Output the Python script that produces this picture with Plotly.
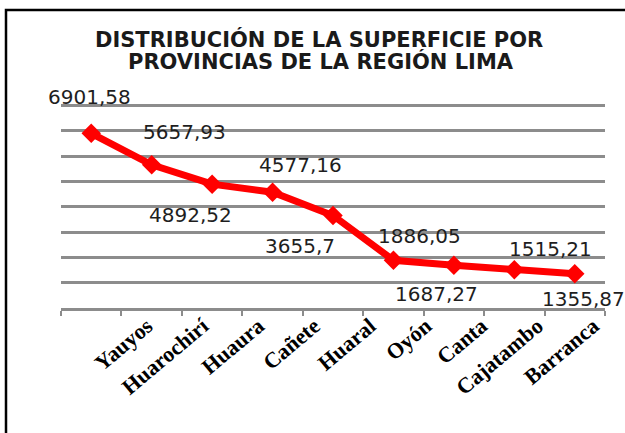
import plotly.graph_objects as go

# ---- data ----
provincias = ["Yauyos", "Huarochirí", "Huaura", "Cañete", "Huaral",
              "Oyón", "Canta", "Cajatambo", "Barranca"]
superficie = [6901.58, 5657.93, 4892.52, 4577.16, 3655.7,
              1886.05, 1687.27, 1515.21, 1355.87]
etiquetas = ["6901,58", "5657,93", "4892,52", "4577,16", "3655,7",
             "1886,05", "1687,27", "1515,21", "1355,87"]
title_lines = ["DISTRIBUCIÓN DE LA SUPERFICIE POR",
               "PROVINCIAS DE LA REGIÓN LIMA"]

# label offsets in pixels (style only)
label_dx = [-1.5, 33, -22, 28, -33.5, 26.5, -17.5, 36.5, 8.5]
label_dy = [36, 33, -31, 27, -30.5, 24, -29, 20.5, -25.5]

W, H = 625, 433
Y_TOP = 8100          # a little headroom so the 8000 gridline is drawn
PX_PER_UNIT = 202 / 8000
ML, MR, MB = 61, 20, 125
MT = 106 - (Y_TOP - 8000) * PX_PER_UNIT
PW = W - ML - MR
PH = H - MT - MB

def px_x(px):
    return (px - ML) / PW

def px_y(py):
    return (H - MB - py) / PH

idx = list(range(len(provincias)))

fig = go.Figure()
fig.add_trace(go.Scatter(
    x=idx, y=superficie, mode="lines+markers",
    line=dict(color="#ff0000", width=7),
    marker=dict(symbol="diamond", size=15, color="#ff0000"),
    hoverinfo="skip", showlegend=False,
))
# invisible trace carrying the category labels axis
fig.add_trace(go.Scatter(
    x=idx, y=superficie, xaxis="x2", mode="markers",
    marker=dict(opacity=0), hoverinfo="skip", showlegend=False,
))

for i, (v, t) in enumerate(zip(superficie, etiquetas)):
    fig.add_annotation(
        x=i, y=v, xref="x", yref="y", text=t, showarrow=False,
        xshift=label_dx[i], yshift=label_dy[i],
        font=dict(family="DejaVu Sans", size=20, color="#1e1e1e"),
    )

fig.add_annotation(x=px_x(319), y=px_y(40.4), xref="paper", yref="paper",
                   text=title_lines[0], showarrow=False, xanchor="center", yanchor="middle",
                   font=dict(family="DejaVu Sans", size=21, color="#1a1a1a", weight="bold"))
fig.add_annotation(x=px_x(320.5), y=px_y(62.2), xref="paper", yref="paper",
                   text=title_lines[1], showarrow=False, xanchor="center", yanchor="middle",
                   font=dict(family="DejaVu Sans", size=21, color="#1a1a1a", weight="bold"))

# chart frame (partially cut off on right and bottom, as in the reference)
fig.add_shape(type="rect", xref="paper", yref="paper",
              x0=px_x(6), y0=px_y(460), x1=px_x(660), y1=px_y(10.7),
              line=dict(color="#000000", width=2.5), fillcolor="rgba(0,0,0,0)", layer="above")

n = len(provincias)
fig.update_layout(
    width=W, height=H, autosize=False,
    margin=dict(l=ML, r=MR, t=MT, b=MB),
    paper_bgcolor="white", plot_bgcolor="white",
    xaxis=dict(
        range=[-0.5, n - 0.5], tickmode="array",
        tickvals=[i - 0.5 for i in range(n + 1)],
        showticklabels=False, ticks="outside", ticklen=5, tickwidth=2,
        tickcolor="#8c8c8c", showline=True, linecolor="#8c8c8c", linewidth=3,
        showgrid=False, zeroline=False, fixedrange=True,
    ),
    xaxis2=dict(
        overlaying="x", anchor="y", side="bottom",
        range=[-1.543, 8.21], tickmode="array", tickvals=idx, ticktext=provincias,
        tickangle=-40, ticks="", showline=False, showgrid=False, zeroline=False,
        tickfont=dict(family="Liberation Serif", size=22, color="#000000", weight="bold"),
    ),
    yaxis=dict(
        range=[0, Y_TOP], tickmode="array", tickvals=[1000 * k for k in range(1, 9)],
        showticklabels=False, showgrid=True,
        gridcolor="#8c8c8c", gridwidth=2.5, zeroline=False, showline=False,
        ticks="", fixedrange=True,
    ),
)

fig.write_html("out.html", config={"displayModeBar": False},
               post_script="document.body.style.margin='0px';")
